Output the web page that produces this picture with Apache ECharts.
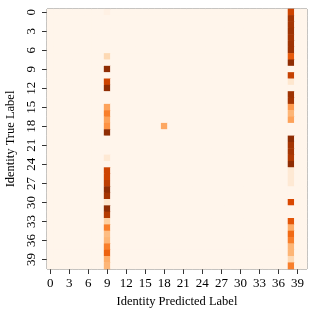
<!DOCTYPE html>
<html><head><meta charset="utf-8">
<script src="https://cdn.jsdelivr.net/npm/echarts@6/dist/echarts.min.js"></script>
<style>html,body{margin:0;padding:0;background:#fff}#c{width:317px;height:316px}</style>
</head><body><div id="c"></div>
<script>
// Labels 0..40 (41 identities)
const labels = Array.from({length: 41}, (_, i) => String(i));
// Values in predicted column 9, by true label row 0..40
const col9Values = [0.03,0,0,0,0,0,0,0.2,0,0.95,0,0.78,0.95,0,0,0.42,0.55,0.42,0.48,0.95,
  0,0,0,0.1,0,0.78,0.78,0.82,0.95,0.88,0.12,0.95,0.84,0.25,0.55,0.32,0.35,0.55,0.65,0.38,0.35];
// Values in predicted column 38, by true label row 0..40
const col38Values = [0.78,0.88,0.88,0.9,0.88,0.9,0.9,0.68,0.95,0,0.8,0.12,0,0.9,0.88,0.45,0.35,0.42,0,0,
  0.95,0.88,0.88,0.85,0.95,0.1,0.1,0.1,0,0,0.75,0,0,0.7,0.38,0.62,0.55,0.35,0.35,0.2,0.55];
// Other isolated cells: [predicted, true, value]
const otherCells = [[18, 18, 0.4]];

const data = [];
for (let r = 0; r < labels.length; r++) {
  for (let c = 0; c < labels.length; c++) {
    let v = 0;
    if (c === 9) v = col9Values[r];
    else if (c === 38) v = col38Values[r];
    otherCells.forEach(o => { if (o[0] === c && o[1] === r) v = o[2]; });
    data.push([c, r, v]);
  }
}

const font = 'Liberation Serif';
const chart = echarts.init(document.getElementById('c'));
chart.setOption({
  animation: false,
  grid: {left: 47, top: 9, width: 260, height: 260, containLabel: false, outerBoundsMode: 'none',
    show: true, borderColor: '#666', borderWidth: 1, backgroundColor: '#fff5eb'},
  xAxis: {
    type: 'category', data: labels,
    name: 'Identity Predicted Label', nameLocation: 'middle', nameGap: 25,
    nameTextStyle: {fontFamily: font, fontSize: 12.5, color: '#000'},
    axisLine: {show: false},
    axisTick: {show: true, interval: 2, alignWithLabel: true, length: 5, lineStyle: {color: '#333'}},
    axisLabel: {interval: 2, margin: 8, fontFamily: font, fontSize: 13, color: '#000'},
    splitLine: {show: false}
  },
  yAxis: {
    type: 'category', data: labels, inverse: true,
    name: 'Identity True Label', nameLocation: 'middle', nameGap: 27, nameRotate: 90,
    nameTextStyle: {fontFamily: font, fontSize: 12.5, color: '#000'},
    axisLine: {show: false},
    axisTick: {show: true, interval: 2, alignWithLabel: true, length: 5, lineStyle: {color: '#333'}},
    axisLabel: {interval: 2, rotate: 90, margin: 9, fontFamily: font, fontSize: 13, color: '#000', verticalAlign: 'bottom'},
    splitLine: {show: false}
  },
  visualMap: {
    show: false, min: 0, max: 1, dimension: 2,
    inRange: {color: ['#fff5eb','#fee6ce','#fdd0a2','#fdae6b','#fd8d3c','#f16913','#d94801','#a63603','#7f2704']}
  },
  series: [{
    type: 'heatmap', data: data,
    itemStyle: {borderWidth: 0},
    emphasis: {disabled: true}
  }]
});
</script></body></html>
